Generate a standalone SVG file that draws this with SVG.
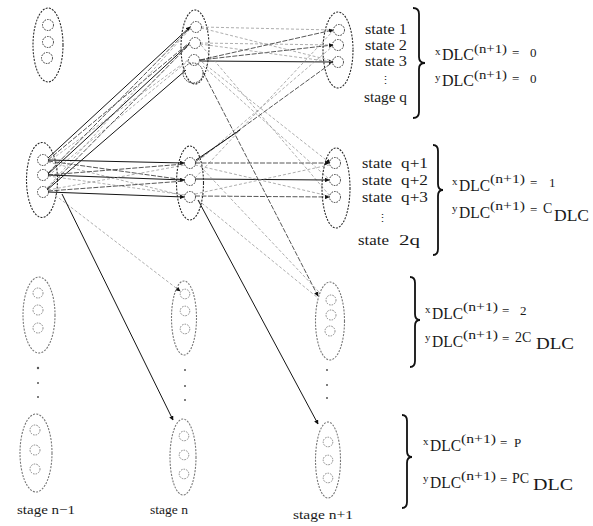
<svg xmlns="http://www.w3.org/2000/svg" width="593" height="526" viewBox="0 0 593 526">
  <defs>
    <marker id="arr" viewBox="0 0 8 8" refX="7" refY="4" markerWidth="4.5" markerHeight="4.5" orient="auto" markerUnits="userSpaceOnUse">
      <path d="M0,0 L8,4 L0,8 z" fill="#111"/>
    </marker>
    <style>
      .ell { fill: none; stroke: #2a2a2a; stroke-width: 1.1; stroke-dasharray: 2 1.3; }
      .ell.lt { stroke: #777; }
      .st { fill: none; stroke: #333; stroke-width: 1; stroke-dasharray: 1.6 1.1; }
      .st.lt { stroke: #888; }
      .dot { fill: #555; }
      .dk { fill: none; stroke: #151515; stroke-width: 1; }
      .md { fill: none; stroke: #444; stroke-width: 0.9; stroke-dasharray: 5 1.5; }
      .gd { fill: none; stroke: #999; stroke-width: 0.8; stroke-dasharray: 3 2; }
      .brace { fill: none; stroke: #111; stroke-width: 1.8; }
      text { font-family: "Liberation Serif", "Times New Roman", serif; fill: #1a1a1a; }
      .lab { font-size: 14px; }
      .sm { font-size: 11px; }
      .sup { font-size: 13px; }
      .big { font-size: 16px; }
      .mid { font-size: 13px; }
      .co { font-size: 14px; }
    </style>
  </defs>

  <rect width="593" height="526" fill="#fff"/>

  <!-- connectors -->
  <g id="connectors">
    <!-- stage n-1 (group 2) to stage n (group 1) -->
    <line class="dk" x1="48" y1="158" x2="190" y2="27" marker-end="url(#arr)"/>
    <line class="md" x1="48" y1="160" x2="189" y2="43"/>
    <line class="gd" x1="48" y1="162" x2="188" y2="60"/>
    <line class="md" x1="48" y1="173" x2="190" y2="28"/>
    <line class="dk" x1="48" y1="174" x2="189" y2="44"/>
    <line class="gd" x1="48" y1="176" x2="188" y2="61"/>
    <line class="gd" x1="47" y1="188" x2="190" y2="29"/>
    <line class="md" x1="47" y1="189" x2="189" y2="45"/>
    <line class="dk" x1="47" y1="190" x2="186" y2="70"/>

    <!-- stage n-1 (group 2) to stage n (group 2) -->
    <line class="dk" x1="48" y1="160" x2="184" y2="163" marker-end="url(#arr)"/>
    <line class="md" x1="48" y1="161" x2="185" y2="180"/>
    <line class="gd" x1="48" y1="162" x2="185" y2="196"/>
    <line class="md" x1="48" y1="175" x2="185" y2="164"/>
    <line class="dk" x1="48" y1="175" x2="184" y2="180" marker-end="url(#arr)"/>
    <line class="gd" x1="48" y1="176" x2="185" y2="195"/>
    <line class="gd" x1="48" y1="190" x2="185" y2="165"/>
    <line class="md" x1="48" y1="191" x2="185" y2="181"/>
    <line class="dk" x1="48" y1="192" x2="184" y2="197" marker-end="url(#arr)"/>

    <!-- stage n-1 to lower stage n groups -->
    <line class="gd" x1="55" y1="195" x2="180" y2="291" marker-end="url(#arr)"/>
    <line class="dk" x1="62" y1="194" x2="173" y2="420" marker-end="url(#arr)"/>

    <!-- stage n (group 1) to stage n+1 (group 1) -->
    <line class="gd" x1="201" y1="27" x2="333" y2="30"/>
    <line class="gd" x1="200" y1="43" x2="333" y2="45"/>
    <line class="gd" x1="201" y1="28" x2="333" y2="61"/>
    <line class="md" x1="200" y1="60" x2="333" y2="30" marker-end="url(#arr)"/>
    <line class="md" x1="200" y1="60" x2="333" y2="45" marker-end="url(#arr)"/>
    <line class="dk" x1="200" y1="61" x2="333" y2="62" marker-end="url(#arr)"/>
    <line class="gd" x1="200" y1="44" x2="333" y2="62"/>

    <!-- stage n (group 1) to stage n+1 (group 2) -->
    <line class="gd" x1="202" y1="62" x2="330" y2="163" marker-end="url(#arr)"/>
    <line class="gd" x1="203" y1="66" x2="330" y2="180"/>
    <line class="gd" x1="201" y1="45" x2="330" y2="196"/>

    <!-- stage n (group 2) to stage n+1 (group 1) -->
    <line class="md" x1="195" y1="162" x2="333" y2="62"/>
    <line class="gd" x1="195" y1="164" x2="333" y2="46"/>
    <line class="gd" x1="195" y1="178" x2="333" y2="31"/>
    <line class="dk" x1="196" y1="160" x2="240" y2="130"/>

    <!-- stage n (group 2) to stage n+1 (group 2) -->
    <line class="md" x1="195" y1="163" x2="329" y2="163" marker-end="url(#arr)"/>
    <line class="dk" x1="195" y1="179" x2="329" y2="180" marker-end="url(#arr)"/>
    <line class="md" x1="195" y1="196" x2="329" y2="197" marker-end="url(#arr)"/>
    <line class="gd" x1="195" y1="165" x2="329" y2="196"/>
    <line class="gd" x1="195" y1="194" x2="329" y2="165"/>

    <!-- stage n to stage n+1 (group 3) -->
    <line class="md" x1="203" y1="72" x2="318" y2="296" marker-end="url(#arr)"/>
    <line class="gd" x1="198" y1="200" x2="318" y2="298"/>
    <line class="gd" x1="200" y1="166" x2="319" y2="292"/>

    <!-- stage n to stage n+1 (group P) -->
    <line class="dk" x1="198" y1="200" x2="318" y2="424" marker-end="url(#arr)"/>
  </g>

  <!-- stage n-1 -->
  <g id="n0-g1">
    <ellipse class="ell" cx="48" cy="45" rx="15" ry="37"/>
    <circle class="st" cx="48" cy="25" r="5.5"/>
    <circle class="st" cx="48" cy="42" r="5.5"/>
    <circle class="st" cx="47" cy="58" r="5.5"/>
  </g>
  <g id="n0-g2">
    <ellipse class="ell" cx="42" cy="180" rx="15.5" ry="37.5"/>
    <circle class="st" cx="43" cy="160" r="5.5"/>
    <circle class="st" cx="43" cy="175" r="5.5"/>
    <circle class="st" cx="43" cy="192" r="5.5"/>
  </g>
  <g id="n0-g3">
    <ellipse class="ell lt" cx="39" cy="315" rx="16" ry="38"/>
    <circle class="st lt" cx="38" cy="293" r="5"/>
    <circle class="st lt" cx="38" cy="310" r="5"/>
    <circle class="st lt" cx="38" cy="328" r="5"/>
  </g>
  <g id="n0-dots">
    <circle class="dot" cx="38" cy="368" r="1.2"/>
    <circle class="dot" cx="38" cy="383" r="1"/>
    <circle class="dot" cx="38" cy="397" r="1"/>
  </g>
  <g id="n0-gP">
    <ellipse class="ell lt" cx="36" cy="453" rx="16" ry="39"/>
    <circle class="st lt" cx="35" cy="430" r="5"/>
    <circle class="st lt" cx="35" cy="450" r="5"/>
    <circle class="st lt" cx="35" cy="469" r="5"/>
  </g>

  <!-- stage n -->
  <g id="n1-g1">
    <ellipse class="ell" cx="195" cy="47" rx="14" ry="37"/>
    <circle class="st" cx="196" cy="27" r="5.5"/>
    <circle class="st" cx="195" cy="43" r="5.5"/>
    <circle class="st" cx="194" cy="60" r="5.5"/>
    <circle class="st" cx="193" cy="73" r="10" stroke-dasharray="2 2"/>
  </g>
  <g id="n1-g2">
    <ellipse class="ell" cx="190" cy="183" rx="13.5" ry="37"/>
    <circle class="st" cx="190" cy="163" r="5.5"/>
    <circle class="st" cx="190" cy="180" r="5.5"/>
    <circle class="st" cx="190" cy="197" r="5.5"/>
  </g>
  <g id="n1-g3">
    <ellipse class="ell lt" cx="184" cy="318" rx="12.5" ry="37"/>
    <circle class="st lt" cx="185" cy="294" r="4.8"/>
    <circle class="st lt" cx="185" cy="311" r="4.8"/>
    <circle class="st lt" cx="185" cy="329" r="4.8"/>
  </g>
  <g id="n1-dots">
    <circle class="dot" cx="185" cy="370" r="1"/>
    <circle class="dot" cx="185" cy="386" r="1"/>
    <circle class="dot" cx="185" cy="400" r="1"/>
  </g>
  <g id="n1-gP">
    <ellipse class="ell lt" cx="183" cy="457" rx="13" ry="38"/>
    <circle class="st lt" cx="184" cy="436" r="4.8"/>
    <circle class="st lt" cx="184" cy="455" r="4.8"/>
    <circle class="st lt" cx="184" cy="474" r="4.8"/>
  </g>

  <!-- stage n+1 -->
  <g id="n2-g1">
    <ellipse class="ell" cx="338" cy="50" rx="15" ry="38"/>
    <circle class="st" cx="339" cy="30" r="5.5"/>
    <circle class="st" cx="338" cy="45" r="5.5"/>
    <circle class="st" cx="338" cy="62" r="5.5"/>
  </g>
  <g id="n2-g2">
    <ellipse class="ell" cx="336" cy="188" rx="14" ry="40"/>
    <circle class="st" cx="335" cy="163" r="5.5"/>
    <circle class="st" cx="335" cy="180" r="5.5"/>
    <circle class="st" cx="335" cy="197" r="5.5"/>
  </g>
  <g id="n2-g3">
    <ellipse class="ell lt" cx="330" cy="321" rx="14.5" ry="39"/>
    <circle class="st lt" cx="331" cy="300" r="5"/>
    <circle class="st lt" cx="331" cy="315" r="5"/>
    <circle class="st lt" cx="330" cy="331" r="5"/>
  </g>
  <g id="n2-dots">
    <circle class="dot" cx="327" cy="370" r="1"/>
    <circle class="dot" cx="327" cy="385" r="1"/>
    <circle class="dot" cx="327" cy="398" r="1"/>
  </g>
  <g id="n2-gP">
    <ellipse class="ell lt" cx="328" cy="460" rx="12.5" ry="38"/>
    <circle class="st lt" cx="328" cy="442" r="4.8"/>
    <circle class="st lt" cx="328" cy="460" r="4.8"/>
    <circle class="st lt" cx="328" cy="478" r="4.8"/>
  </g>

  <!-- state labels -->
  <g id="states-1">
    <text class="lab" x="365" y="34" textLength="42" lengthAdjust="spacingAndGlyphs">state 1</text>
    <text class="lab" x="365" y="50" textLength="42" lengthAdjust="spacingAndGlyphs">state 2</text>
    <text class="lab" x="365" y="66" textLength="42" lengthAdjust="spacingAndGlyphs">state 3</text>
    <text class="sm" x="380" y="84">⋮</text>
    <text class="lab" x="364" y="102" textLength="43" lengthAdjust="spacingAndGlyphs">stage q</text>
  </g>
  <g id="states-2">
    <text class="lab" x="362" y="168" textLength="30" lengthAdjust="spacingAndGlyphs">state</text><text class="lab" x="401" y="168" textLength="27" lengthAdjust="spacingAndGlyphs">q+1</text>
    <text class="lab" x="362" y="185" textLength="30" lengthAdjust="spacingAndGlyphs">state</text><text class="lab" x="401" y="185" textLength="27" lengthAdjust="spacingAndGlyphs">q+2</text>
    <text class="lab" x="362" y="202" textLength="30" lengthAdjust="spacingAndGlyphs">state</text><text class="lab" x="401" y="202" textLength="27" lengthAdjust="spacingAndGlyphs">q+3</text>
    <text class="sm" x="377" y="222">⋮</text>
    <text class="lab" x="358" y="245" textLength="31" lengthAdjust="spacingAndGlyphs">state</text><text class="lab" x="399" y="245" textLength="21" lengthAdjust="spacingAndGlyphs">2q</text>
  </g>

  <!-- braces -->
  <g id="braces">
    <path class="brace" d="M413,8 Q419,8 419,14 L419,57 Q419,63 425,63 Q419,63 419,69 L419,112 Q419,118 413,118"/>
    <path class="brace" d="M433,145 Q438,145 438,151 L438,184 Q438,190 443,190 Q438,190 438,196 L438,249 Q438,255 433,255"/>
    <path class="brace" d="M410,277 Q415,277 415,283 L415,314 Q415,320 420,320 Q415,320 415,326 L415,361 Q415,367 410,367"/>
    <path class="brace" d="M402,415 Q407,415 407,421 L407,451 Q407,457 412,457 Q407,457 407,463 L407,502 Q407,508 402,508"/>
  </g>

  <!-- conditions -->
  <g id="eq-0">
    <text><tspan class="sm" x="435" y="55">x</tspan><tspan class="big" x="442" y="60" textLength="32" lengthAdjust="spacingAndGlyphs">DLC</tspan><tspan class="sup" x="474" y="53" textLength="33" lengthAdjust="spacingAndGlyphs">(n+1)</tspan><tspan class="mid" x="512" y="57">=</tspan><tspan class="mid" x="530" y="57">0</tspan></text>
    <text><tspan class="sm" x="435" y="81">y</tspan><tspan class="big" x="442" y="86" textLength="32" lengthAdjust="spacingAndGlyphs">DLC</tspan><tspan class="sup" x="474" y="79" textLength="33" lengthAdjust="spacingAndGlyphs">(n+1)</tspan><tspan class="mid" x="512" y="83">=</tspan><tspan class="mid" x="530" y="83">0</tspan></text>
  </g>
  <g id="eq-1">
    <text><tspan class="sm" x="452" y="185">x</tspan><tspan class="big" x="459" y="191" textLength="31" lengthAdjust="spacingAndGlyphs">DLC</tspan><tspan class="sup" x="490" y="183" textLength="35" lengthAdjust="spacingAndGlyphs">(n+1)</tspan><tspan class="mid" x="530" y="187">=</tspan><tspan class="mid" x="549" y="187">1</tspan></text>
    <text><tspan class="sm" x="452" y="212">y</tspan><tspan class="big" x="459" y="218" textLength="31" lengthAdjust="spacingAndGlyphs">DLC</tspan><tspan class="sup" x="490" y="210" textLength="35" lengthAdjust="spacingAndGlyphs">(n+1)</tspan><tspan class="mid" x="530" y="214">=</tspan><tspan class="co" x="543" y="213">C</tspan><tspan class="big" x="554" y="221" textLength="35" lengthAdjust="spacingAndGlyphs">DLC</tspan></text>
  </g>
  <g id="eq-2">
    <text><tspan class="sm" x="425" y="313">x</tspan><tspan class="big" x="432" y="319" textLength="31" lengthAdjust="spacingAndGlyphs">DLC</tspan><tspan class="sup" x="463" y="311" textLength="35" lengthAdjust="spacingAndGlyphs">(n+1)</tspan><tspan class="mid" x="502" y="315">=</tspan><tspan class="mid" x="520" y="315">2</tspan></text>
    <text><tspan class="sm" x="425" y="341">y</tspan><tspan class="big" x="432" y="347" textLength="31" lengthAdjust="spacingAndGlyphs">DLC</tspan><tspan class="sup" x="463" y="339" textLength="35" lengthAdjust="spacingAndGlyphs">(n+1)</tspan><tspan class="mid" x="502" y="343">=</tspan><tspan class="co" x="515" y="342">2C</tspan><tspan class="big" x="536" y="349" textLength="38" lengthAdjust="spacingAndGlyphs">DLC</tspan></text>
  </g>
  <g id="eq-P">
    <text><tspan class="sm" x="423" y="445">x</tspan><tspan class="big" x="430" y="451" textLength="31" lengthAdjust="spacingAndGlyphs">DLC</tspan><tspan class="sup" x="461" y="443" textLength="35" lengthAdjust="spacingAndGlyphs">(n+1)</tspan><tspan class="mid" x="500" y="447">=</tspan><tspan class="mid" x="514" y="447">P</tspan></text>
    <text><tspan class="sm" x="423" y="482">y</tspan><tspan class="big" x="430" y="488" textLength="31" lengthAdjust="spacingAndGlyphs">DLC</tspan><tspan class="sup" x="461" y="480" textLength="35" lengthAdjust="spacingAndGlyphs">(n+1)</tspan><tspan class="mid" x="500" y="484">=</tspan><tspan class="co" x="512" y="483">PC</tspan><tspan class="big" x="533" y="490" textLength="40" lengthAdjust="spacingAndGlyphs">DLC</tspan></text>
  </g>

  <!-- stage labels -->
  <g id="stage-labels">
    <text class="mid" x="17" y="514" textLength="58" lengthAdjust="spacingAndGlyphs">stage n−1</text>
    <text class="mid" x="150" y="514" textLength="38" lengthAdjust="spacingAndGlyphs">stage  n</text>
    <text class="mid" x="293" y="519" textLength="60" lengthAdjust="spacingAndGlyphs">stage n+1</text>
  </g>
</svg>
